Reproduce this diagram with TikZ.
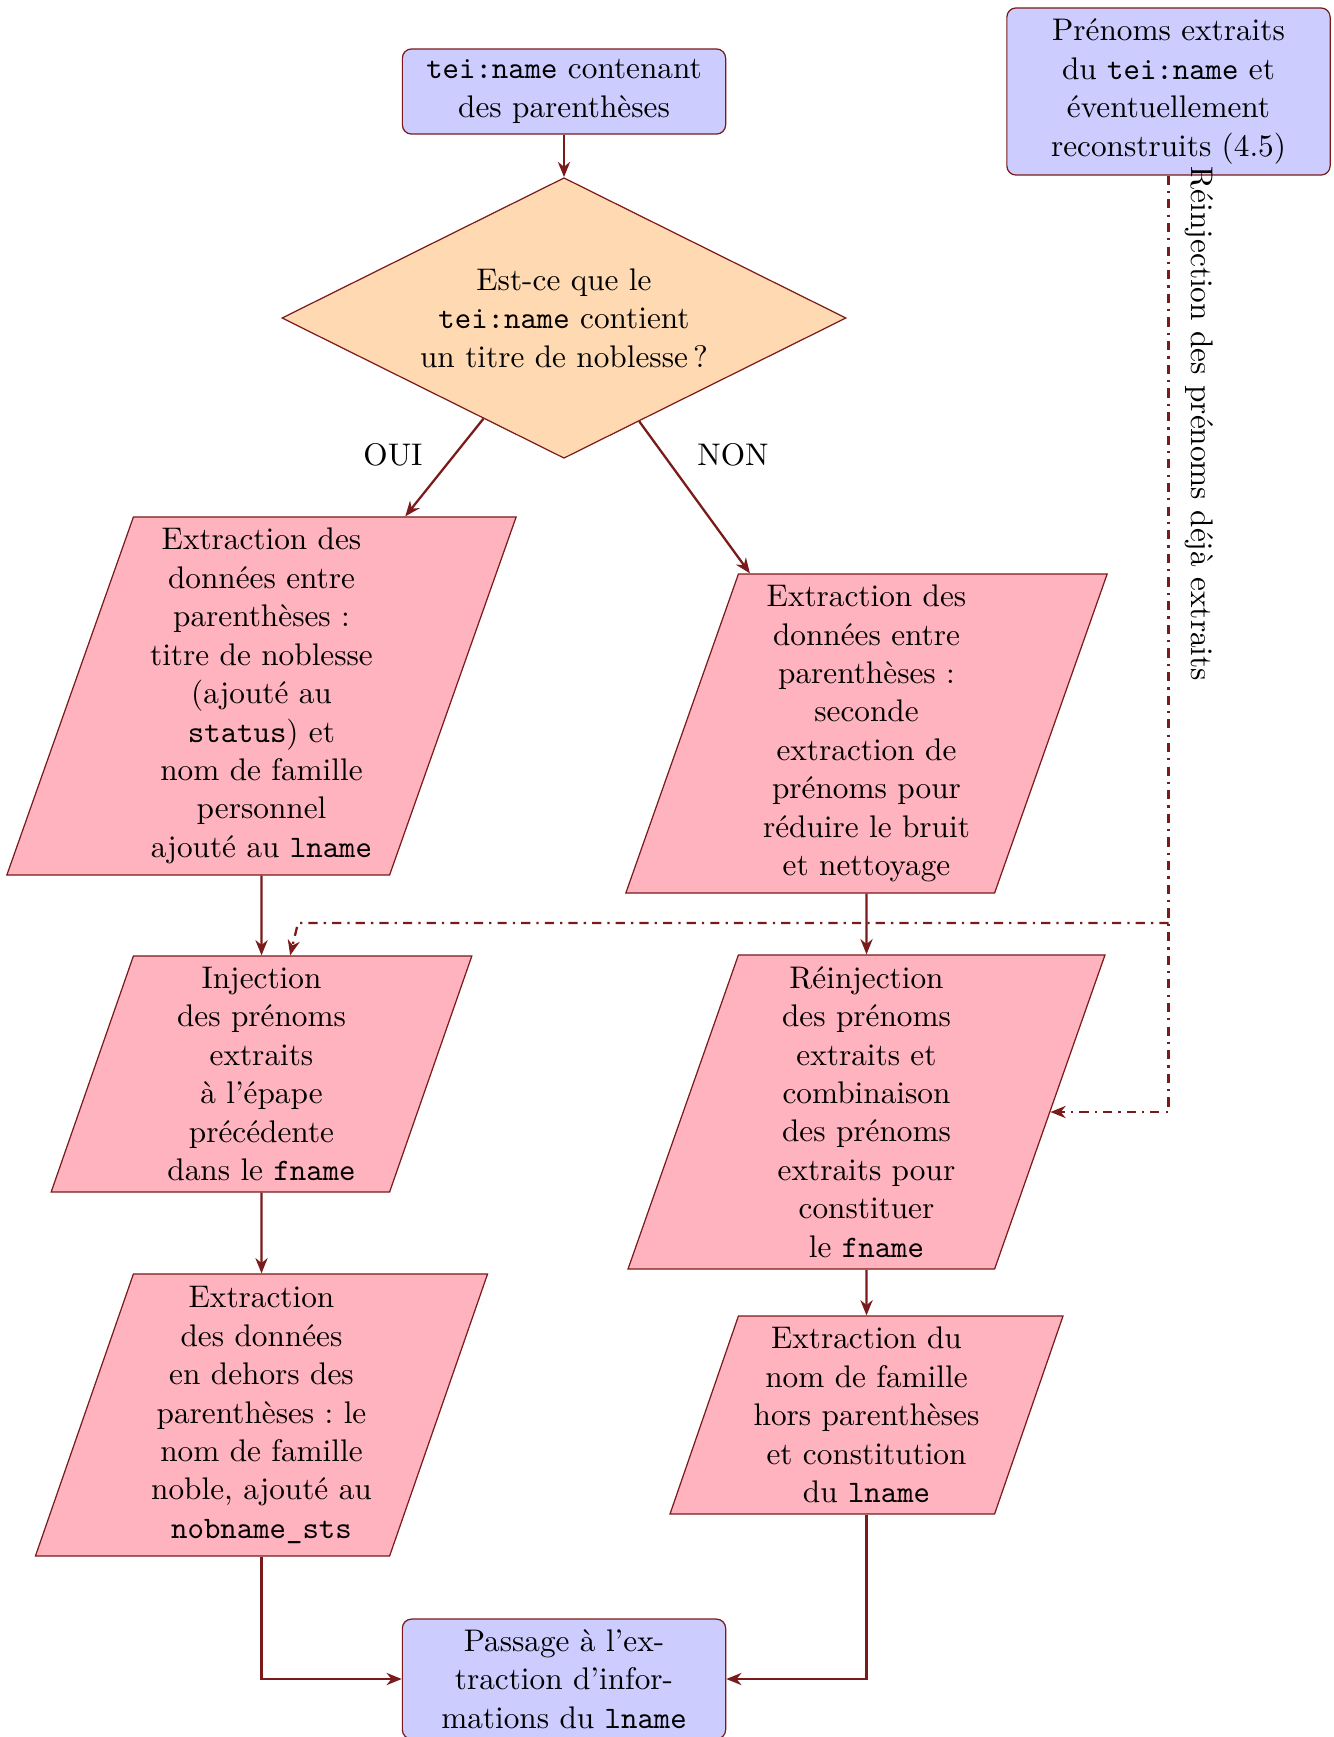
\documentclass[tikz,border=0pt]{standalone}
\usetikzlibrary{shapes.geometric,arrows.meta}
\definecolor{lc}{RGB}{122,26,26}
\definecolor{pinkfill}{RGB}{255,179,191}
\begin{document}
\begin{tikzpicture}[x=0.3279pt,y=-0.3279pt,
  every node/.style={font=\fontsize{10.25}{12.6}\selectfont\frenchspacing},
  boxb/.style={rectangle, rounded corners=3pt, draw=lc, fill=blue!20, align=center, minimum width=106pt, inner sep=2pt},
  para/.style={trapezium, trapezium left angle=70, trapezium right angle=110, trapezium stretches body, draw=lc, fill=pinkfill, text width=78pt, align=center, inner xsep=3pt, inner ysep=2pt},
  dec/.style={diamond, aspect=2, draw=lc, fill=orange!30, align=center, minimum width=185pt, minimum height=92pt, inner sep=0pt},
  arr/.style={draw=lc, line width=0.75pt, -{Stealth[length=5pt,width=4pt]}},
  darr/.style={arr, dash dot},
  lbl/.style={inner sep=0pt}]
\useasboundingbox (0,0) rectangle (1334,1737);

\node[boxb, minimum height=27.9pt] (start) at (564,91.5) {\texttt{tei:name} contenant\\ des parenthèses};
\node[boxb, minimum height=54.8pt] (tr) at (1168.5,91.5) {Prénoms extraits\\ du \texttt{tei:name} et\\ éventuellement\\ reconstruits (4.5)};
\node[dec] (q) at (564,318) {Est-ce que le\\ \texttt{tei:name} contient\\ un titre de noblesse\,?};

\node[para, minimum height=117.4pt] (p1) at (261.5,696) {Extraction des\\ données entre\\ parenthèses :\\ titre de noblesse\\ (ajouté au\\ \texttt{status}) et\\ nom de famille\\ personnel\\ ajouté au \texttt{lname}};
\node[para, minimum height=104.6pt] (p2) at (866.5,733.5) {Extraction des\\ données entre\\ parenthèses :\\ seconde\\ extraction de\\ prénoms pour\\ réduire le bruit\\ et nettoyage};
\node[para, minimum height=77.4pt] (p3) at (261.5,1074) {Injection\\ des prénoms\\ extraits\\ à l’épape\\ précédente\\ dans le \texttt{fname}};
\node[para, minimum height=103pt] (p4) at (866.5,1112) {Réinjection\\ des prénoms\\ extraits et\\ combinaison\\ des prénoms\\ extraits pour\\ constituer\\ le \texttt{fname}};
\node[para, minimum height=92.5pt] (p5) at (261.5,1415) {Extraction\\ des données\\ en dehors des\\ parenthèses : le\\ nom de famille\\ noble, ajouté au\\ \texttt{nobname\_sts}};
\node[para, minimum height=64.9pt] (p6) at (866.5,1415) {Extraction du\\ nom de famille\\ hors parenthèses\\ et constitution\\ du \texttt{lname}};
\node[boxb, minimum height=39.3pt] (fin) at (564,1679) {Passage à l’ex-\\ traction d’infor-\\ mations du \texttt{lname}};

\node[lbl] (oui) at (393,455) {OUI};
\node[lbl] (non) at (733,455) {NON};
\node[lbl, rotate=-90] (rl) at (1199,424) {Réinjection des prénoms déjà extraits};

\coordinate (bend) at (298,923);

\draw[arr] (start) -- (q);
\draw[arr] (q) -- (p1);
\draw[arr] (q) -- (p2);
\draw[arr] (p1) -- (p3);
\draw[arr] (p3) -- (p5);
\draw[arr] (p2) -- (p4);
\draw[arr] (p4) -- (p6);
\draw[arr] (p5) |- (fin);
\draw[arr] (p6) |- (fin);
\draw[darr] (tr) |- (p4);
\draw[darr] (tr.south |- bend) -- (bend) -- (p3);
\end{tikzpicture}
\end{document}
